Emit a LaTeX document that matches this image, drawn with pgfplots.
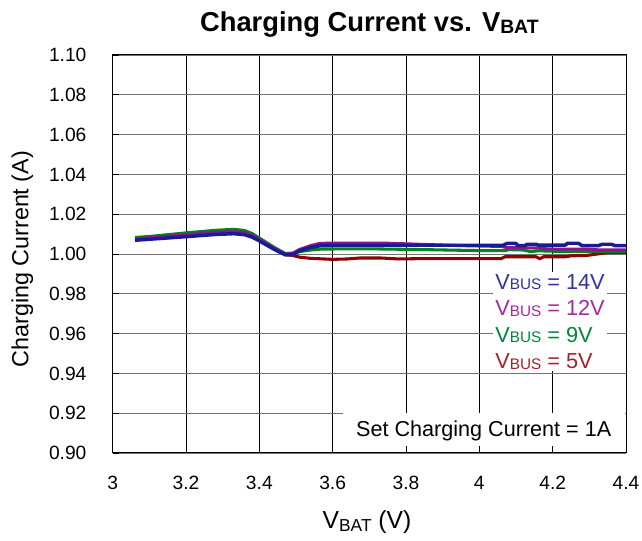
\documentclass[border=0pt]{standalone}
\usepackage{pgfplots}
\pgfplotsset{compat=1.18}
\usepackage{fontspec}
\setmainfont{Liberation Sans}
\definecolor{c14}{RGB}{26,26,150}
\definecolor{c12}{RGB}{140,20,140}
\definecolor{c9}{RGB}{0,130,30}
\definecolor{c5}{RGB}{140,0,0}
\definecolor{t14}{RGB}{50,50,165}
\definecolor{t12}{RGB}{165,40,165}
\definecolor{t9}{RGB}{0,135,60}
\definecolor{t5}{RGB}{165,35,40}
\newcommand\lsub[3]{\raisebox{-#3}{\fontsize{#2}{#2}\selectfont #1}}
\begin{document}
\begin{tikzpicture}
\path[use as bounding box] (-84.5pt,-66pt) rectangle (397pt,339.75pt);
\begin{axis}[
  at={(0,0)}, anchor=south west,
  scale only axis, width=385pt, height=298.5pt,
  xmin=3, xmax=4.4, ymin=0.9, ymax=1.1,
  xtick={3,3.2,...,4.41}, ytick={0.90,0.92,...,1.101},
  tick pos=left, tick align=inside, major tick length=4.5pt,
  tick style={black, line width=0.6pt},
  axis line style={black, line width=0.75pt},
  xmajorgrids, ymajorgrids,
  x grid style={black, line width=0.6pt},
  y grid style={black!55, line width=0.6pt},
  /pgf/number format/assume math mode=true,
  ticklabel style={font=\fontsize{14.4}{16}\selectfont},
  xticklabel style={anchor=base, inner sep=0pt, yshift=-27.75pt},
  yticklabel style={anchor=east, inner sep=0pt, xshift=-19.5pt,
     /pgf/number format/.cd, fixed, fixed zerofill, precision=2},
  title={Charging Current vs. V\lsub{BAT}{14.5pt}{1.2pt}},
  title style={at={(axis description cs:0.5,1.0585)}, anchor=base, yshift=-6pt, font=\bfseries\fontsize{20.5}{23}\selectfont},
  xlabel={V\lsub{BAT}{13pt}{2.5pt} (V)},
  xlabel style={at={(axis description cs:0.4955,-0.1892)}, anchor=base, font=\fontsize{18.5}{21}\selectfont},
  ylabel={Charging Current (A)},
  ylabel style={at={(axis description cs:-0.1644,0.487)}, anchor=base, font=\fontsize{17.5}{20}\selectfont},
  line join=round,
]
\addplot[c5, line width=2.3pt] coordinates {
(3.061,1.0072) (3.10,1.0077) (3.20,1.0092) (3.28,1.0103) (3.33,1.0107) (3.36,1.0102) (3.38,1.0090) (3.40,1.0069) (3.44,1.0026) (3.47,0.9998) (3.488,0.9994) (3.51,0.9984) (3.54,0.9978) (3.60,0.9973) (3.64,0.9975) (3.675,0.9980) (3.73,0.9980) (3.78,0.9975) (3.85,0.9977) (4.06,0.9977) (4.07,0.9986) (4.155,0.9986) (4.165,0.9976) (4.175,0.9986) (4.235,0.9986) (4.25,0.9991) (4.29,0.9992) (4.33,1.0002) (4.35,1.0007) (4.40,1.0008)
};
\addplot[c9, line width=2.3pt] coordinates {
(3.061,1.0083) (3.10,1.0088) (3.20,1.0106) (3.28,1.0119) (3.33,1.0124) (3.36,1.0118) (3.38,1.0103) (3.40,1.0080) (3.44,1.0034) (3.47,1.0003) (3.49,1.0004) (3.51,1.0012) (3.54,1.0020) (3.57,1.0025) (3.70,1.0026) (3.85,1.0022) (4.00,1.0017) (4.07,1.0017) (4.08,1.0022) (4.12,1.0020) (4.14,1.0012) (4.16,1.0016) (4.20,1.0014) (4.30,1.0012) (4.40,1.0013)
};
\addplot[c12, line width=2.3pt] coordinates {
(3.061,1.0075) (3.10,1.0081) (3.20,1.0097) (3.28,1.0108) (3.33,1.0113) (3.36,1.0107) (3.38,1.0094) (3.40,1.0072) (3.44,1.0029) (3.47,1.0000) (3.49,1.0002) (3.51,1.0023) (3.54,1.0042) (3.565,1.0053) (3.60,1.0055) (3.75,1.0054) (3.85,1.0048) (3.95,1.0042) (4.06,1.0038) (4.075,1.0032) (4.16,1.0030) (4.19,1.0025) (4.30,1.0024) (4.33,1.0020) (4.40,1.0020)
};
\addplot[c14, line width=2.6pt] coordinates {
(3.061,1.0069) (3.10,1.0074) (3.20,1.0087) (3.28,1.0098) (3.33,1.0102) (3.36,1.0097) (3.38,1.0085) (3.40,1.0066) (3.44,1.0024) (3.47,0.9996) (3.49,0.9996) (3.51,1.0016) (3.54,1.0033) (3.57,1.0043) (3.60,1.0044) (3.80,1.0044) (4.00,1.0044) (4.065,1.0044) (4.075,1.0053) (4.10,1.0053) (4.105,1.0042) (4.125,1.0042) (4.13,1.0049) (4.155,1.0049) (4.16,1.0045) (4.235,1.0045) (4.24,1.0054) (4.27,1.0054) (4.28,1.0042) (4.325,1.0042) (4.335,1.0049) (4.36,1.0049) (4.37,1.0042) (4.40,1.0042)
};
\node[anchor=north west, fill=white, inner sep=1.5pt, align=left, font=\fontsize{16.3}{19.8}\selectfont]
  at (axis cs:4.0373,0.99095)
  {\textcolor{t14}{V\lsub{BUS}{11.5pt}{0.5pt} = 14V}\\
   \textcolor{t12}{V\lsub{BUS}{11.5pt}{0.5pt} = 12V}\\
   \textcolor{t9}{V\lsub{BUS}{11.5pt}{0.5pt} = 9V}\\
   \textcolor{t5}{V\lsub{BUS}{11.5pt}{0.5pt} = 5V}};
\node[anchor=base east, fill=white, inner xsep=10pt, inner ysep=0pt, text height=17.8pt, text depth=7pt, font=\fontsize{16.2}{19}\selectfont]
  at (axis cs:4.397,0.9082) {Set Charging Current = 1A};
\end{axis}
\end{tikzpicture}
\end{document}
